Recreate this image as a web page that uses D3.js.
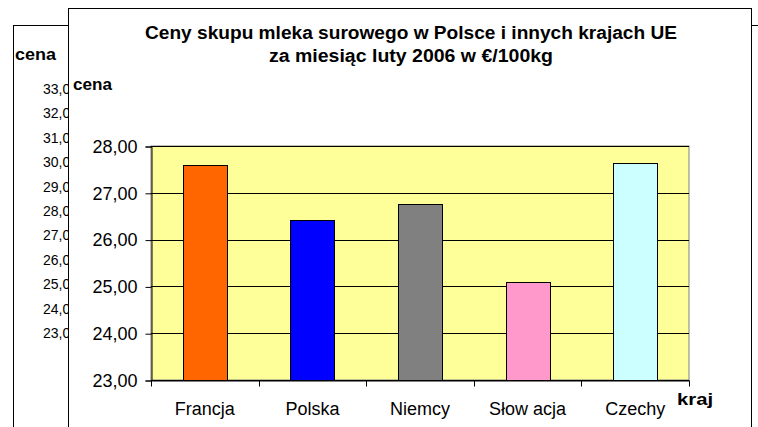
<!DOCTYPE html>
<html>
<head>
<meta charset="utf-8">
<script src="https://cdn.jsdelivr.net/npm/d3@7"></script>
<style>
body { margin: 0; background: #ffffff; }
text { font-family: Arial, "Liberation Sans", sans-serif; fill: #000000; }
</style>
</head>
<body>
<svg id="main" width="758" height="427"></svg>
<script>
var countries = ["Francja", "Polska", "Niemcy", "Słowacja", "Czechy"];
var labels = ["Francja", "Polska", "Niemcy", "Słow acja", "Czechy"];
var prices = [27.59, 26.42, 26.76, 25.10, 27.63];
var barColors = ["#FF6600", "#0000FF", "#808080", "#FF99CC", "#CCFFFF"];
var yTicks = [23, 24, 25, 26, 27, 28];
var backTicks = [33, 32, 31, 30, 29, 28, 27, 26, 25, 24, 23];
var titleLines = ["Ceny skupu mleka surowego w Polsce i innych krajach UE", "za miesiąc luty 2006 w €/100kg"];

var svg = d3.select("#main");
svg.append("rect").attr("width", 758).attr("height", 427).attr("fill", "#ffffff");
svg.append("clipPath").attr("id", "backclip").append("rect").attr("x", 0).attr("y", 0).attr("width", 68).attr("height", 427);

// chart behind (only its left part is visible)
svg.append("rect").attr("x", 13.5).attr("y", 25.5).attr("width", 800).attr("height", 500).attr("fill", "#ffffff").attr("stroke", "#000000");
svg.append("text").attr("x", 15).attr("y", 60).attr("font-size", "17px").attr("font-weight", "bold")
	.attr("textLength", 41).attr("lengthAdjust", "spacingAndGlyphs").text("cena");
var yBack = d3.scaleLinear().domain([23, 33]).range([333, 89]);
// labels are cut off by the front chart, only "33,0" etc. shows
svg.append("g").attr("clip-path", "url(#backclip)").selectAll("text").data(backTicks).join("text")
	.attr("x", 43).attr("y", function(d) { return yBack(d); }).attr("dy", "0.35em")
	.attr("font-size", "14px").text(function(d) { return d + ",0"; });

// front chart
svg.append("rect").attr("x", 68.5).attr("y", 8.5).attr("width", 683).attr("height", 500).attr("fill", "#ffffff").attr("stroke", "#000000");

var title = svg.append("g");
title.append("text").attr("x", 411).attr("y", 39).attr("text-anchor", "middle").attr("font-size", "18px").attr("font-weight", "bold")
	.attr("textLength", 532).attr("lengthAdjust", "spacingAndGlyphs").text(titleLines[0]);
title.append("text").attr("x", 411).attr("y", 62).attr("text-anchor", "middle").attr("font-size", "18px").attr("font-weight", "bold")
	.attr("textLength", 284).attr("lengthAdjust", "spacingAndGlyphs").text(titleLines[1]);

svg.append("text").attr("x", 73).attr("y", 90).attr("font-size", "17px").attr("font-weight", "bold")
	.attr("textLength", 39).attr("lengthAdjust", "spacingAndGlyphs").text("cena");
svg.append("text").attr("x", 677).attr("y", 405).attr("font-size", "17px").attr("font-weight", "bold")
	.attr("textLength", 36).attr("lengthAdjust", "spacingAndGlyphs").text("kraj");

var x = d3.scaleBand().domain(countries).range([151, 689]).padding(0);
var y = d3.scaleLinear().domain([23, 28]).range([380, 146]);

// plot area
svg.append("rect").attr("x", 151).attr("y", 146).attr("width", 538).attr("height", 234).attr("fill", "#FFFF99").attr("stroke", "#808080");

svg.append("g").selectAll("line").data(yTicks).join("line")
	.attr("x1", 151).attr("x2", 689)
	.attr("y1", function(d) { return Math.round(y(d)) + 0.5; }).attr("y2", function(d) { return Math.round(y(d)) + 0.5; })
	.attr("stroke", "#000000").attr("stroke-width", 1);

var barW = 44;
svg.append("g").selectAll("rect").data(prices).join("rect")
	.attr("x", function(d, i) { return Math.round(x(countries[i]) + x.bandwidth() / 2 - barW / 2) + 0.5; })
	.attr("y", function(d) { return Math.round(y(d)) + 0.5; })
	.attr("width", barW)
	.attr("height", function(d) { return Math.round(y(23)) - Math.round(y(d)); })
	.attr("fill", function(d, i) { return barColors[i]; })
	.attr("stroke", "#000000").attr("stroke-width", 1);

// axes
var yAxis = d3.axisLeft(y).tickValues(yTicks).tickSize(6).tickPadding(8)
	.tickFormat(function(d) { return d3.format(".2f")(d).replace(".", ","); });
var gy = svg.append("g").attr("transform", "translate(151.5,0.5)").call(yAxis);
gy.selectAll("text").attr("font-size", "18px").attr("font-family", null);
gy.selectAll("line, path").attr("stroke", "#000000");

var xAxis = d3.axisBottom(x).tickSize(0).tickPadding(22).tickFormat(function(d, i) { return labels[i]; });
var gx = svg.append("g").attr("transform", "translate(0,380.5)").call(xAxis);
gx.selectAll("text").attr("font-size", "18px").attr("font-family", null);
gx.select("path").attr("stroke", "#000000");
gx.selectAll("line.bound").data(d3.range(countries.length + 1)).join("line").attr("class", "bound")
	.attr("x1", function(i) { return Math.round(151 + i * x.step()) + 0.5; })
	.attr("x2", function(i) { return Math.round(151 + i * x.step()) + 0.5; })
	.attr("y1", 0).attr("y2", 6).attr("stroke", "#000000");
</script>
</body>
</html>
